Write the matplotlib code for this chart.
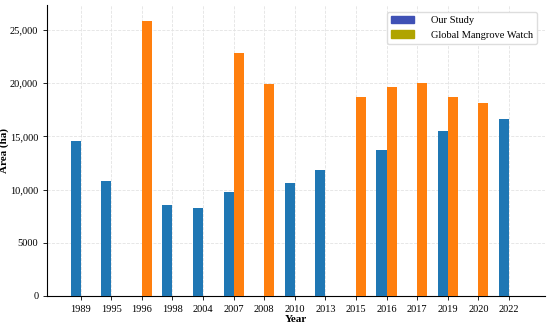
import numpy as np
import matplotlib
matplotlib.use('Agg')
import matplotlib.pyplot as plt
from matplotlib.patches import Patch
from matplotlib.ticker import FuncFormatter

plt.rcParams['font.family'] = ['Liberation Serif', 'DejaVu Serif']

# Data
years = ['1989', '1995', '1996', '1998', '2004', '2007', '2008', '2010',
         '2013', '2015', '2016', '2017', '2019', '2020', '2022']
our_study = [14600, 10800, None, 8550, 8220, 9800, None, 10650,
             11820, None, 13750, None, 15500, None, 16620]
gmw = [None, None, 25880, None, None, 22870, 19900, None,
       None, 18730, 19680, 20000, 18730, 18100, None]

BLUE = '#1f77b4'
ORANGE = '#ff7f0e'


def fmt_y(v, pos):
    # 0 and 5000 without separator, others with comma
    if v >= 10000:
        return f'{int(v):,}'
    return f'{int(v)}'


fig = plt.figure(figsize=(5.5, 3.27), dpi=100)
ax = fig.add_axes([0.086, 0.095, 0.905, 0.89])

x = np.arange(len(years))
w = 0.33
for i in range(len(years)):
    if our_study[i] is not None:
        ax.bar(x[i] - w / 2, our_study[i], width=w, color=BLUE, zorder=3)
    if gmw[i] is not None:
        ax.bar(x[i] + w / 2, gmw[i], width=w, color=ORANGE, zorder=3)

ax.set_xticks(x)
ax.set_xticklabels(years, fontsize=7.5)
ax.set_xlim(-1.09, 15.18)
ax.set_ylim(0, 27350)
ax.set_yticks([0, 5000, 10000, 15000, 20000, 25000])
ax.yaxis.set_major_formatter(FuncFormatter(fmt_y))
ax.tick_params(axis='y', labelsize=7.5, length=3, width=0.6)
ax.tick_params(axis='x', length=3, width=0.6)

ax.set_xlabel('Year', fontsize=8, fontweight='bold', labelpad=1)
ax.set_ylabel('Area (ha)', fontsize=8, fontweight='bold')
ax.yaxis.set_label_coords(-0.077, 0.5)

ax.grid(True, color='#e3e3e3', linestyle='--', linewidth=0.6, zorder=0)
ax.spines['top'].set_visible(False)
ax.spines['right'].set_visible(False)
ax.spines['left'].set_linewidth(0.8)
ax.spines['bottom'].set_linewidth(0.8)

handles = [Patch(color='#3f51b5', label='Our Study'),
           Patch(color='#b0a400', label='Global Mangrove Watch')]
ax.legend(handles=handles, loc='upper right', fontsize=7.5, handlelength=2.2,
          handletextpad=1.6, framealpha=1, edgecolor='#dddddd',
          bbox_to_anchor=(0.995, 0.995))

fig.savefig('out.png', dpi=100)
